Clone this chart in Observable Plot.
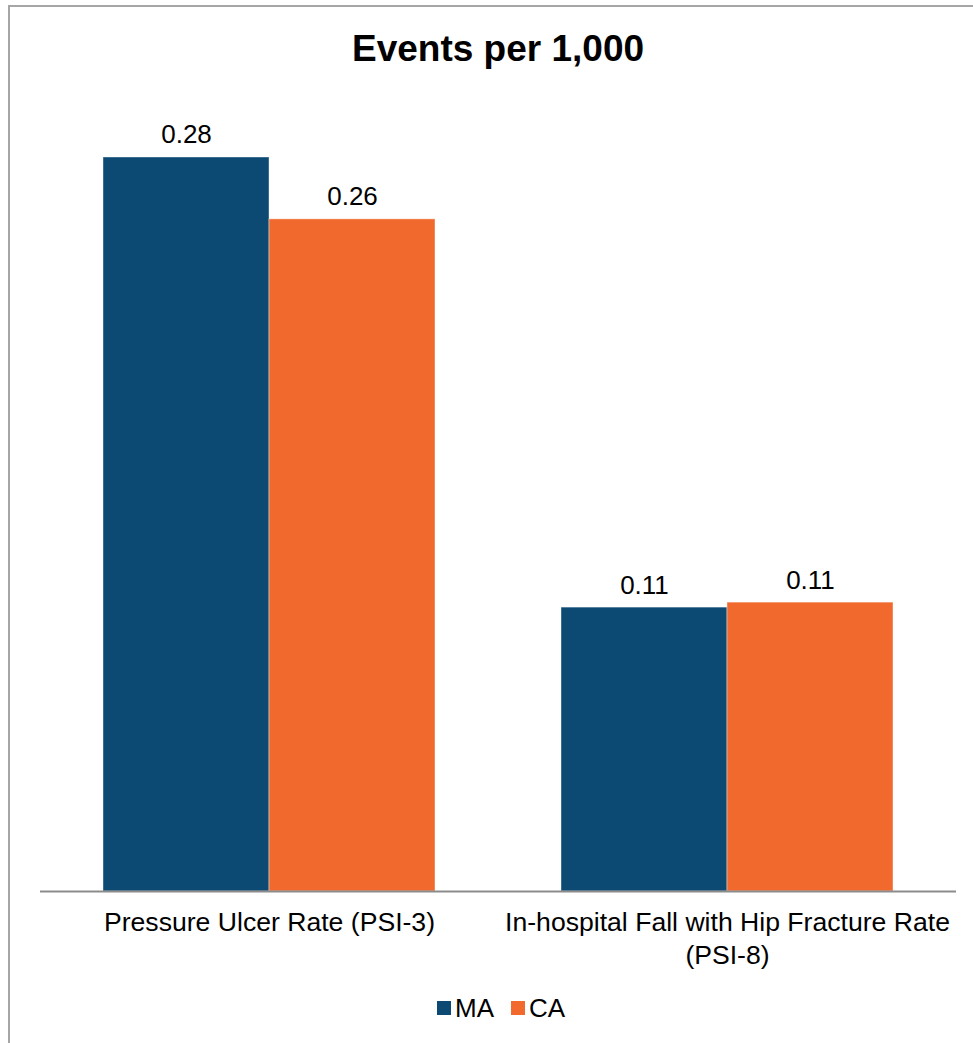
<!DOCTYPE html>
<html>
<head>
<meta charset="utf-8">
<script src="https://cdn.jsdelivr.net/npm/d3@7"></script>
<script src="https://cdn.jsdelivr.net/npm/@observablehq/plot@0.6"></script>
<style>
  html, body { margin: 0; padding: 0; background: #fff; overflow: hidden; }
  body { width: 973px; height: 1043px; position: relative; font-family: "Liberation Sans", Arial, sans-serif; }
  #frame { position: absolute; left: 8px; top: 5px; width: 1100px; height: 1100px; border-left: 2px solid #a6a6a6; border-top: 2px solid #a6a6a6; box-sizing: border-box; }
  #title { position: absolute; left: 0; top: 26px; width: 996px; text-align: center; font-weight: bold; font-size: 37px; color: #000; line-height: 46px; }
  #chart { position: absolute; left: 0; top: 100px; }
  #legend { position: absolute; left: 437px; top: 993px; display: flex; align-items: center; font-size: 26px; color: #000; line-height: 30px; }
  #legend .sw { width: 14px; height: 14px; display: inline-block; margin-right: 4px; }
  #legend .item { display: flex; align-items: center; margin-right: 17px; }
</style>
</head>
<body>
<div id="frame"></div>
<div id="title">Events per 1,000</div>
<div id="chart"></div>
<div id="legend"></div>
<script>
const categories = ["Pressure Ulcer Rate (PSI-3)", "In-hospital Fall with Hip Fracture Rate (PSI-8)"];
const tickLabels = ["Pressure Ulcer Rate (PSI-3)", "In-hospital Fall with Hip Fracture Rate\n(PSI-8)"];
const seriesNames = ["MA", "CA"];
const maValues = [0.28, 0.1083];
const caValues = [0.2564, 0.1102];
const seriesColors = ["#0c4a73", "#f1692c"];

const data = [];
categories.forEach((c, i) => {
  data.push({category: c, series: "MA", value: maValues[i]});
  data.push({category: c, series: "CA", value: caValues[i]});
});

const chart = Plot.plot({
  width: 973,
  height: 880,
  marginLeft: 39,
  marginRight: 17,
  marginTop: 4.57,
  marginBottom: 89,
  style: {fontFamily: "'Liberation Sans', Arial, sans-serif", background: "transparent", overflow: "visible"},
  fx: {domain: categories, padding: 0, label: null, axis: null},
  x: {domain: seriesNames, paddingInner: 0, paddingOuter: 0.378, axis: null},
  y: {domain: [0, 0.3], axis: null},
  color: {domain: seriesNames, range: seriesColors},
  marks: [
    Plot.barY(data, {fx: "category", x: "series", y: "value", fill: "series", stroke: "white", strokeOpacity: 0.5, strokeWidth: 0.8}),
    Plot.ruleY([0], {stroke: "#8c8c8c", strokeWidth: 2}),
    Plot.text(data, {fx: "category", x: "series", y: "value", text: d => d3.format(".2f")(d.value), lineAnchor: "bottom", dy: -14, fontSize: 26, fill: "#000"}),
    Plot.axisFx({anchor: "bottom", tickSize: 0, tickPadding: 16, fontSize: 26.6, lineHeight: 1.25, label: null, fill: "#000", tickFormat: d => tickLabels[categories.indexOf(d)]})
  ]
});
document.getElementById("chart").appendChild(chart);

const legend = document.getElementById("legend");
seriesNames.forEach((s, i) => {
  const item = document.createElement("div");
  item.className = "item";
  const sw = document.createElement("span");
  sw.className = "sw";
  sw.style.background = seriesColors[i];
  item.appendChild(sw);
  item.appendChild(document.createTextNode(s));
  legend.appendChild(item);
});
</script>
</body>
</html>
